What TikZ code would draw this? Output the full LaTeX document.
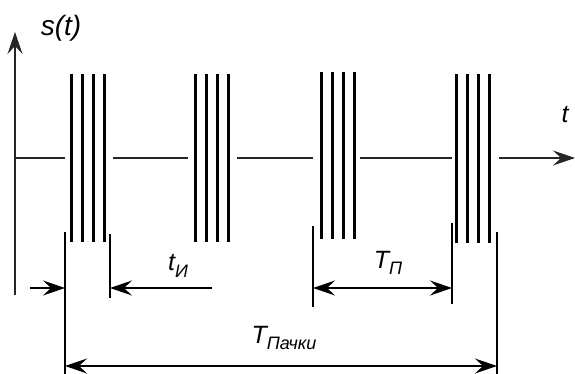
\documentclass[tikz,border=0pt]{standalone}
\usepackage{fontspec}
\setmainfont{Liberation Sans}
\usetikzlibrary{arrows.meta, positioning}
\tikzset{
  pulse/.style={line width=3pt, black},
  axisline/.style={line width=1.3pt, black!85},
  tickline/.style={line width=1.2pt, black},
  dimline/.style={line width=1.3pt, black},
  tip/.style={-{Stealth[length=22pt, width=15pt, inset=8pt]}},
  twotips/.style={{Stealth[length=22pt, width=15pt, inset=8pt]}-{Stealth[length=22pt, width=15pt, inset=8pt]}},
  lbltext/.style={inner sep=0pt, font=\fontsize{25}{28}\selectfont\itshape}
}
\newcommand{\withsub}[2]{#1\raisebox{-0.26em}{\fontsize{18}{18}\selectfont #2}}

\begin{document}
\begin{tikzpicture}[x=1pt, y=-1pt]
    \useasboundingbox (0,0) rectangle (575,374);

    % axes
    \coordinate (origin) at (15,295);
    \coordinate (ytop) at (15,32);
    \draw[axisline, tip] (origin) -- (ytop);
    \draw[axisline] (15,158) -- (65,158);
    \draw[axisline] (113,158) -- (188,158);
    \draw[axisline] (237,158) -- (313,158);
    \draw[axisline] (360,158) -- (452,158);
    \coordinate (xstart) at (499,158);
    \coordinate (xend) at (575,158);
    \draw[axisline, tip] (xstart) -- (xend);

    % bursts of pulses
    \foreach \x/\top/\bot in {71/74/242, 195/74/242, 321/72/239, 456/74/243}{
      \foreach \k in {0,...,3}{
        \draw[pulse] (\x+11.3*\k,\top) -- (\x+11.3*\k,\bot);
      }
    }

    % extension lines
    \draw[tickline] (65,232) coordinate (tiA) -- (65,374);
    \draw[tickline] (110,234) coordinate (tiB) -- (110,298);
    \draw[tickline] (313,226) coordinate (tpA) -- (313,307);
    \draw[tickline] (452,223) coordinate (tpB) -- (452,304);
    \draw[tickline] (497,232) coordinate (tbB) -- (497,374);

    % dimensions
    \coordinate (tiL) at (65,288);
    \coordinate (tiR) at (110,288);
    \coordinate (tiLout) at (30,288);
    \coordinate (tiRout) at (212,288);
    \draw[dimline, tip] (tiLout) -- (tiL);
    \draw[dimline, tip] (tiRout) -- (tiR);

    \coordinate (tpL) at (313,288);
    \coordinate (tpR) at (452,288);
    \draw[dimline, twotips] (tpL) -- (tpR);

    \coordinate (tbL) at (65,366);
    \coordinate (tbR) at (497,366);
    \draw[dimline, twotips] (tbL) -- (tbR);

    % labels
    \node[lbltext, font=\fontsize{28}{30}\selectfont\itshape] (slabel) at (61,28) {s(t)};
    \node[lbltext] (tlabel) at (565,115) {t};
    \node[lbltext] (tilabel) at (178,266) {\withsub{t}{И}};
    \node[lbltext] (tplabel) at (388,263) {\withsub{T}{П}};
    \node[lbltext] (tblabel) at (284,338) {\withsub{T}{Пачки}};
  \end{tikzpicture}
\end{document}
